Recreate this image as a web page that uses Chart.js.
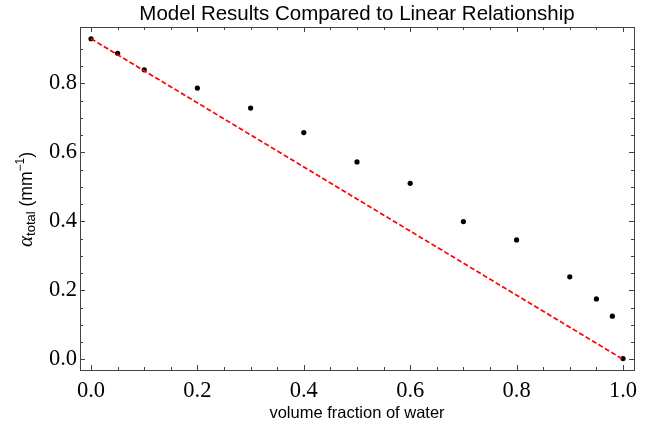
<!DOCTYPE html>
<html>
<head>
<meta charset="utf-8">
<script src="https://cdn.jsdelivr.net/npm/chart.js@4"></script>
<style>
  html, body { margin: 0; padding: 0; background: #fff; }
  canvas { display: block; }
</style>
</head>
<body>
<canvas id="chart" width="649" height="431"></canvas>
<script>
// 体積分率（水）とモデル結果
const waterFraction = [0, 0.05, 0.1, 0.2, 0.3, 0.4, 0.5, 0.6, 0.7, 0.8, 0.9, 0.95, 0.98, 1.0];
const alphaModel = [0.929, 0.887, 0.839, 0.786, 0.728, 0.657, 0.572, 0.510, 0.399, 0.346, 0.239, 0.175, 0.125, 0.002];

// 線形関係（両端）
const linearX = [0, 1];
const linearY = [0.929, 0];

// 目盛り
const xMajorTicks = [0, 0.2, 0.4, 0.6, 0.8, 1.0];
const yMajorTicks = [0, 0.2, 0.4, 0.6, 0.8];
const xMinorTicks = [0.05, 0.1, 0.15, 0.25, 0.3, 0.35, 0.45, 0.5, 0.55, 0.65, 0.7, 0.75, 0.85, 0.9, 0.95];
const yMinorTicks = [0.05, 0.1, 0.15, 0.25, 0.3, 0.35, 0.45, 0.5, 0.55, 0.65, 0.7, 0.75, 0.85, 0.9];

const titleText = "Model Results Compared to Linear Relationship";
const xTitleText = "volume fraction of water";

const SANS = "'Liberation Sans', Arial, sans-serif";
const SERIF = "'Liberation Serif', 'Times New Roman', serif";

/**
 * 枠、内向き目盛り、タイトル、軸ラベルを描く。
 */
const framePlugin = {
  id: "frame",
  afterDraw(chart) {
    const ctx = chart.ctx;
    const { left, right, top, bottom } = chart.chartArea;
    const xs = chart.scales.x;
    const ys = chart.scales.y;
    ctx.save();
    ctx.strokeStyle = "#444";
    ctx.lineWidth = 1;
    ctx.strokeRect(left + 0.5, top + 0.5, right - left, bottom - top);

    const tick = (vals, len) => {
      vals.forEach((v) => {
        const px = Math.round(xs.getPixelForValue(v)) + 0.5;
        ctx.beginPath();
        ctx.moveTo(px, bottom);
        ctx.lineTo(px, bottom - len);
        ctx.moveTo(px, top);
        ctx.lineTo(px, top + len);
        ctx.stroke();
      });
    };
    const tickY = (vals, len) => {
      vals.forEach((v) => {
        const py = Math.round(ys.getPixelForValue(v)) + 0.5;
        ctx.beginPath();
        ctx.moveTo(left, py);
        ctx.lineTo(left + len, py);
        ctx.moveTo(right, py);
        ctx.lineTo(right - len, py);
        ctx.stroke();
      });
    };
    tick(xMajorTicks, 5);
    tick(xMinorTicks, 3);
    tickY(yMajorTicks, 5);
    tickY(yMinorTicks, 3);

    // タイトル
    ctx.fillStyle = "#000";
    ctx.textAlign = "center";
    ctx.textBaseline = "middle";
    ctx.font = "20.5px " + SANS;
    ctx.fillText(titleText, (left + right) / 2, 14);

    // x 軸ラベル
    ctx.font = "16.5px " + SANS;
    ctx.fillText(xTitleText, (left + right) / 2, 413);

    // y 軸ラベル（α_total (mm^-1)）
    ctx.translate(26, (top + bottom) / 2 + 1);
    ctx.rotate(-Math.PI / 2);
    ctx.textAlign = "left";
    ctx.textBaseline = "alphabetic";
    const parts = [
      { t: "α", font: "italic 21px " + SERIF, dy: 6 },
      { t: "total", font: "13px " + SANS, dy: 9 },
      { t: " (mm", font: "17.5px " + SANS, dy: 6 },
      { t: "−1", font: "12px " + SANS, dy: -2 },
      { t: ")", font: "17.5px " + SANS, dy: 6 },
    ];
    let w = 0;
    parts.forEach((p) => {
      ctx.font = p.font;
      p.w = ctx.measureText(p.t).width;
      w += p.w;
    });
    let x = -w / 2;
    parts.forEach((p) => {
      ctx.font = p.font;
      ctx.fillText(p.t, x, p.dy);
      x += p.w;
    });
    ctx.restore();
  },
};

const ctx = document.getElementById("chart").getContext("2d");
new Chart(ctx, {
  type: "scatter",
  data: {
    datasets: [
      {
        label: "model",
        data: waterFraction.map((x, i) => ({ x, y: alphaModel[i] })),
        pointRadius: 2.6,
        pointBackgroundColor: "#000",
        pointBorderWidth: 0,
        showLine: false,
        order: 1,
      },
      {
        label: "linear",
        data: linearX.map((x, i) => ({ x, y: linearY[i] })),
        showLine: true,
        pointRadius: 0,
        borderColor: "#ff0000",
        borderWidth: 1.7,
        borderDash: [5, 2.5],
        order: 0,
      },
    ],
  },
  options: {
    responsive: false,
    animation: false,
    layout: { padding: { left: 0, right: 15, top: 27, bottom: 0 } },
    plugins: {
      legend: { display: false },
      tooltip: { enabled: false },
    },
    scales: {
      x: {
        type: "linear",
        min: -0.0207,
        max: 1.0207,
        grid: { display: false, drawTicks: false },
        border: { display: false },
        afterBuildTicks: (s) => { s.ticks = xMajorTicks.map((v) => ({ value: v })); },
        afterFit: (s) => { s.height = 61; },
        ticks: {
          color: "#000",
          padding: 8,
          font: { family: SERIF, size: 22.5 },
          maxRotation: 0,
          callback: (v) => v.toFixed(1),
        },
      },
      y: {
        type: "linear",
        min: -0.031,
        max: 0.963,
        grid: { display: false, drawTicks: false },
        border: { display: false },
        afterBuildTicks: (s) => { s.ticks = yMajorTicks.map((v) => ({ value: v })); },
        afterFit: (s) => { s.width = 80; },
        ticks: {
          color: "#000",
          padding: 3,
          font: { family: SERIF, size: 22.5 },
          callback: (v) => v.toFixed(1),
        },
      },
    },
  },
  plugins: [framePlugin],
});
</script>
</body>
</html>
